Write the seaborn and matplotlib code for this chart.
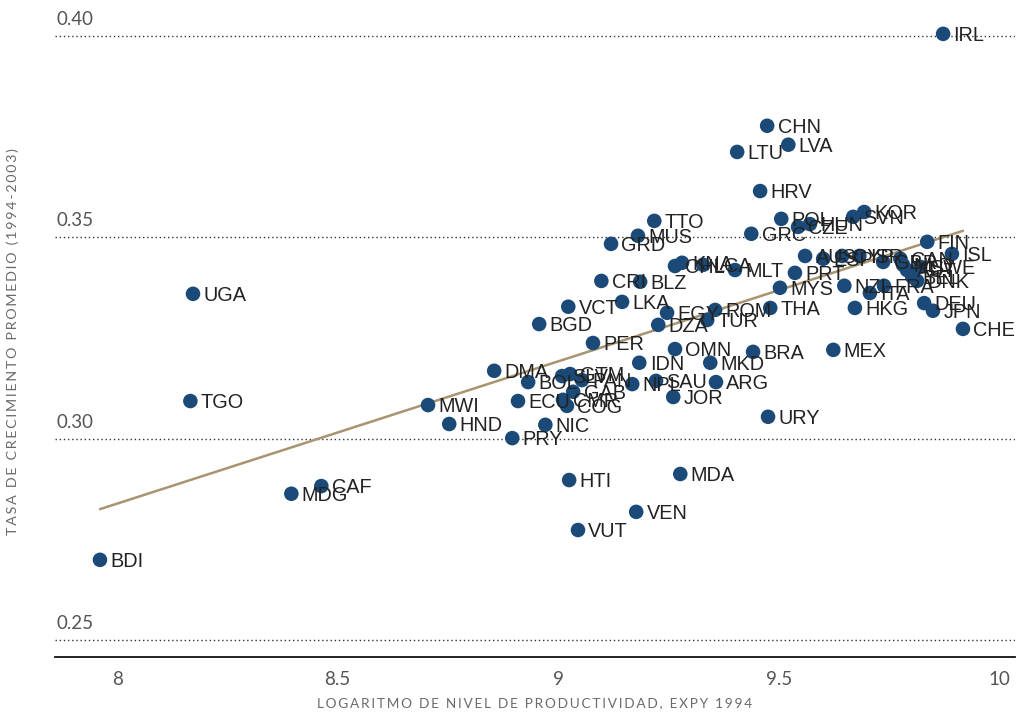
import matplotlib
matplotlib.use("Agg")
import matplotlib.pyplot as plt
import seaborn as sns
import pandas as pd

# Country codes, log productivity level (EXPY 1994) and average growth rate 1994-2003
codes = [
    "IRL", "CHN", "LVA", "LTU", "HRV", "POL", "CZE", "HUN", "SVN", "KOR",
    "TTO", "MUS", "GRD", "GRC", "FIN", "ISL", "AUS", "ESP", "CYP", "ISR",
    "GBR", "CAN", "NLD", "AUT", "BEL", "SWE", "DNK", "PRT", "NZL", "ITA",
    "FRA", "HKG", "DEU", "JPN", "CHE", "MLT", "CHL", "KNA", "LCA", "MYS",
    "EGY", "TUR", "ROM", "THA", "DZA", "CRI", "BLZ", "VCT", "LKA", "BGD",
    "PER", "OMN", "BRA", "MEX", "IDN", "MKD", "UGA", "TGO", "DMA", "BOL",
    "SLV", "GTM", "PAN", "GAB", "CMR", "COG", "ECU", "NIC", "PRY", "NPL",
    "SAU", "ARG", "JOR", "URY", "MWI", "HND", "HTI", "MDA", "VEN", "VUT",
    "CAF", "MDG", "BDI",
]
expy = [
    9.873, 9.474, 9.522, 9.406, 9.458, 9.506, 9.544, 9.571, 9.669, 9.694,
    9.218, 9.181, 9.120, 9.438, 9.837, 9.893, 9.560, 9.601, 9.644, 9.683,
    9.737, 9.776, 9.782, 9.791, 9.803, 9.821, 9.814, 9.537, 9.649, 9.707,
    9.739, 9.673, 9.830, 9.850, 9.918, 9.401, 9.265, 9.281, 9.329, 9.503,
    9.247, 9.338, 9.356, 9.481, 9.227, 9.098, 9.186, 9.023, 9.145, 8.957,
    9.079, 9.265, 9.442, 9.624, 9.184, 9.345, 8.172, 8.166, 8.855, 8.932,
    9.009, 9.027, 9.054, 9.034, 9.011, 9.020, 8.909, 8.971, 8.896, 9.168,
    9.222, 9.358, 9.261, 9.476, 8.705, 8.753, 9.025, 9.277, 9.177, 9.045,
    8.463, 8.395, 7.961,
]
growth = [
    0.4005, 0.3777, 0.3730, 0.3712, 0.3615, 0.3546, 0.3526, 0.3533, 0.3551, 0.3563,
    0.3541, 0.3504, 0.3484, 0.3509, 0.3489, 0.3459, 0.3454, 0.3447, 0.3454, 0.3454,
    0.3439, 0.3447, 0.3432, 0.3419, 0.3402, 0.3427, 0.3392, 0.3412, 0.3380, 0.3362,
    0.3380, 0.3325, 0.3337, 0.3318, 0.3273, 0.3419, 0.3429, 0.3437, 0.3432, 0.3375,
    0.3313, 0.3295, 0.3320, 0.3325, 0.3283, 0.3392, 0.3390, 0.3328, 0.3340, 0.3285,
    0.3238, 0.3223, 0.3216, 0.3221, 0.3189, 0.3189, 0.3360, 0.3094, 0.3169, 0.3141,
    0.3156, 0.3161, 0.3146, 0.3117, 0.3097, 0.3082, 0.3094, 0.3035, 0.3002, 0.3136,
    0.3144, 0.3141, 0.3104, 0.3055, 0.3084, 0.3037, 0.2898, 0.2913, 0.2819, 0.2774,
    0.2883, 0.2864, 0.2700,
]

x_ticks = [8, 8.5, 9, 9.5, 10]
x_tick_labels = ["8", "8.5", "9", "9.5", "10"]
y_ticks = [0.25, 0.30, 0.35, 0.40]
y_tick_labels = ["0.25", "0.30", "0.35", "0.40"]

x_title = "LOGARITMO DE NIVEL DE PRODUCTIVIDAD, EXPY 1994"
y_title = "TASA DE CRECIMIENTO PROMEDIO (1994-2003)"

df = pd.DataFrame({"code": codes, "expy": expy, "growth": growth})

sns.set_theme(style="white")
plt.rcParams["font.family"] = ["Liberation Sans", "DejaVu Sans"]

dot_color = "#1b4a78"
line_color = "#a8946f"
tick_color = "#555555"
title_color = "#6a6a6a"


def spaced(text, gap="\u2009"):
    """Open up the tracking of an all-caps axis title."""
    return gap.join(text)


fig = plt.figure(figsize=(10.24, 7.21), dpi=100)
ax = fig.add_axes([0.0537, 0.0888, 0.9375, 0.9112])

# Fitted line across the data range
sns.regplot(data=df, x="expy", y="growth", ax=ax, scatter=False, ci=None,
            truncate=True, line_kws={"color": line_color, "lw": 1.8, "zorder": 2})

sns.scatterplot(data=df, x="expy", y="growth", ax=ax, color=dot_color, s=110,
                edgecolor="none", zorder=3, legend=False)

for c, xv, yv in zip(df["code"], df["expy"], df["growth"]):
    ax.annotate(c, (xv, yv), xytext=(7.5, -1), textcoords="offset points",
                ha="left", va="center", fontsize=14.3, color="#222222",
                family="Liberation Sans", zorder=4)

ax.set_xlim(7.859, 10.036)
ax.set_ylim(0.2459, 0.4089)

# Dotted reference lines with their values written just above, on the left
for yv, lab in zip(y_ticks, y_tick_labels):
    ax.axhline(yv, color="#333333", lw=1.0, ls=(0, (1, 2)), zorder=1)
    ax.annotate(lab, (0, yv), xycoords=("axes fraction", "data"),
                xytext=(1, 6), textcoords="offset points", ha="left", va="bottom",
                fontsize=13.5, color=tick_color, family="Lato")

ax.set_yticks([])
ax.set_xticks(x_ticks)
ax.set_xticklabels(x_tick_labels, family="Lato", fontsize=13.5, color=tick_color)
ax.tick_params(axis="x", length=0, pad=10)

for side in ["top", "right", "left"]:
    ax.spines[side].set_visible(False)
ax.spines["bottom"].set_color("#111111")
ax.spines["bottom"].set_linewidth(1.3)

ax.set_xlabel(spaced(x_title), family=["Lato", "DejaVu Sans"],
              fontsize=9.8, color=title_color, labelpad=7)
ax.set_ylabel(spaced(y_title), family=["Lato", "DejaVu Sans"],
              fontsize=10.3, color=title_color)
ax.yaxis.set_label_coords(-0.037, 0.48)

fig.savefig("out.png", dpi=100)
